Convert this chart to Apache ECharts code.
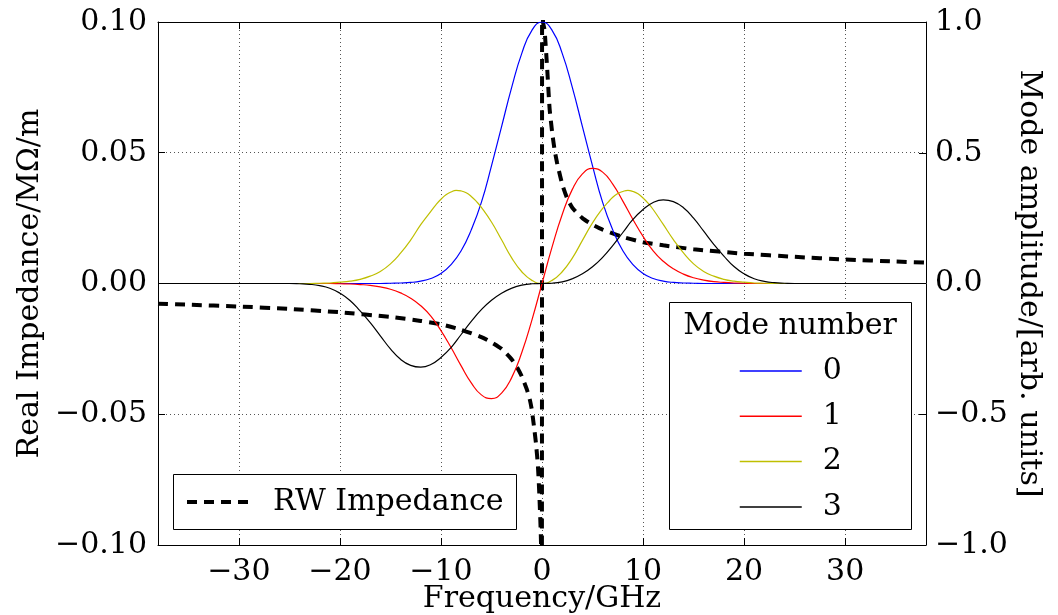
<!DOCTYPE html>
<html>
<head>
<meta charset="utf-8">
<script src="https://cdn.jsdelivr.net/npm/echarts@6/dist/echarts.min.js"></script>
<style>
  html, body { margin: 0; padding: 0; background: #fff; }
  #chart { width: 1058px; height: 615px; }
</style>
</head>
<body>
<div id="chart"></div>
<script>
// ---- Data ----
var xTicks = [-30, -20, -10, 0, 10, 20, 30];
var leftTicks = [-0.1, -0.05, 0, 0.05, 0.1];
var rightTicks = [-1, -0.5, 0, 0.5, 1];

// Resistive-wall impedance (left axis, MΩ/m)
var rwFreq = [-38, -35, -30, -25, -20, -15, -12, -10, -8, -6, -5, -4, -3, -2.5, -2, -1.5, -1.2, -1, -0.8, -0.6, -0.4, -0.25, -0.1, -0.02,
              0.02, 0.1, 0.25, 0.5, 0.75, 1, 1.25, 1.5, 2, 2.5, 3, 4, 5, 6, 8, 10, 12, 15, 20, 25, 30, 35, 38];
var rwImp = [-0.0077, -0.0081, -0.0088, -0.0097, -0.0110, -0.0128, -0.0143, -0.0156, -0.0177, -0.0205, -0.0225, -0.0250, -0.0290, -0.0318, -0.0355, -0.0405, -0.0445, -0.0485, -0.0545, -0.0610, -0.0700, -0.0820, -0.0990, -0.15,
             0.15, 0.100, 0.097, 0.083, 0.067, 0.058, 0.051, 0.046, 0.038, 0.0325, 0.029, 0.0250, 0.0225, 0.0206, 0.0178, 0.0158, 0.0146, 0.0131, 0.0114, 0.0102, 0.0092, 0.0084, 0.0080];

// Mode amplitudes (right axis, arb. units), sampled every 1 GHz from -25 to 25, plus the ends
var modeFreq = [-38, -25, -24, -23, -22, -21, -20, -19, -18, -17, -16, -15, -14, -13, -12, -11, -10, -9, -8, -7, -6, -5, -4, -3, -2, -1,
                0, 1, 2, 3, 4, 5, 6, 7, 8, 9, 10, 11, 12, 13, 14, 15, 16, 17, 18, 19, 20, 21, 22, 23, 24, 25, 38];
var mode0 = [0, 0, 0, 0, 0, 0, 0, 0, 0, 0, 0, 0.001, 0.002, 0.004, 0.009, 0.019, 0.038, 0.072, 0.125, 0.205, 0.31, 0.45, 0.60, 0.75, 0.88, 0.968,
             1.0, 0.968, 0.88, 0.75, 0.60, 0.45, 0.31, 0.205, 0.125, 0.072, 0.038, 0.019, 0.009, 0.004, 0.002, 0.001, 0, 0, 0, 0, 0, 0, 0, 0, 0, 0, 0];
var mode1 = [0, 0, 0, 0, 0, 0, -0.001, -0.002, -0.004, -0.007, -0.013, -0.022, -0.036, -0.056, -0.085, -0.125, -0.18, -0.245, -0.315, -0.38, -0.426, -0.44, -0.419, -0.36, -0.264, -0.14,
             0, 0.14, 0.264, 0.36, 0.419, 0.44, 0.426, 0.38, 0.315, 0.245, 0.18, 0.125, 0.085, 0.056, 0.036, 0.022, 0.013, 0.007, 0.004, 0.002, 0.001, 0, 0, 0, 0, 0, 0];
var mode3 = [0, 0, -0.001, -0.003, -0.008, -0.018, -0.037, -0.065, -0.105, -0.15, -0.2, -0.25, -0.29, -0.313, -0.32, -0.31, -0.283, -0.245, -0.195, -0.145, -0.10, -0.064, -0.037, -0.018, -0.006, -0.001,
             0, 0.001, 0.006, 0.018, 0.037, 0.064, 0.10, 0.145, 0.195, 0.245, 0.283, 0.31, 0.32, 0.313, 0.29, 0.25, 0.2, 0.15, 0.105, 0.065, 0.037, 0.018, 0.008, 0.003, 0.001, 0, 0];

// Mode 2 is sampled more finely around its two peaks
var mode2Freq = [-38, -25, -24, -23, -22, -21, -20, -19, -18, -17, -16, -15, -14, -13, -12,
                 -11, -10.5, -10, -9.5, -9, -8.5, -8, -7.5, -7, -6.5, -6, -5, -4, -3, -2, -1,
                 0, 1, 2, 3, 4, 5, 6, 6.5, 7, 7.5, 8, 8.5, 9, 9.5, 10, 10.5, 11,
                 12, 13, 14, 15, 16, 17, 18, 19, 20, 21, 22, 23, 24, 25, 38];
var mode2 = [0, 0, 0, 0, 0.001, 0.002, 0.005, 0.009, 0.016, 0.028, 0.046, 0.075, 0.116, 0.166, 0.225,
             0.276, 0.301, 0.322, 0.339, 0.350, 0.356, 0.354, 0.347, 0.333, 0.314, 0.291, 0.235, 0.167, 0.098, 0.045, 0.012,
             0, 0.012, 0.045, 0.097, 0.165, 0.232, 0.287, 0.309, 0.330, 0.344, 0.352, 0.356, 0.352, 0.343, 0.327, 0.307, 0.283,
             0.226, 0.168, 0.117, 0.075, 0.046, 0.028, 0.016, 0.009, 0.005, 0.002, 0.001, 0, 0, 0, 0];

var modeNames = ['0', '1', '2', '3'];
var modeColors = ['#0000ff', '#ff0000', '#bfbf00', '#000000'];
var modeXs = [modeFreq, modeFreq, mode2Freq, modeFreq];
var modeValues = [mode0, mode1, mode2, mode3];

function pairs(xs, ys) {
  var out = [];
  for (var i = 0; i < xs.length; i++) out.push([xs[i], ys[i]]);
  return out;
}
function fmt(v, d) {
  return v.toFixed(d).replace('-', '\u2212');
}

var FONT = 'DejaVu Serif';
var FS = 30;
var GRID_COLOR = '#555';

var series = [{
  name: 'RW Impedance',
  type: 'line',
  xAxisIndex: 0,
  yAxisIndex: 0,
  data: pairs(rwFreq, rwImp),
  showSymbol: false,
  symbol: 'none',
  smooth: 0.2,
  lineStyle: { color: '#000', width: 4, type: [10, 7] },
  itemStyle: { color: '#000' },
  z: 3
}];
for (var m = 0; m < 4; m++) {
  series.push({
    name: modeNames[m],
    type: 'line',
    xAxisIndex: 0,
    yAxisIndex: 1,
    data: pairs(modeXs[m], modeValues[m]),
    showSymbol: false,
    symbol: 'none',
    smooth: 0.5,
    lineStyle: { color: modeColors[m], width: 1.2 },
    itemStyle: { color: modeColors[m] },
    z: 4
  });
}

var legendItemStyle = { color: 'rgba(0,0,0,0)', borderWidth: 0, opacity: 0 };

var chart = echarts.init(document.getElementById('chart'), null, { renderer: 'canvas' });
chart.setOption({
  animation: false,
  backgroundColor: '#fff',
  grid: { left: 158, right: 132, top: 22, bottom: 70, containLabel: false, outerBoundsMode: 'none' },
  xAxis: [{
    type: 'value', position: 'bottom', min: -38, max: 38,
    name: 'Frequency/GHz', nameLocation: 'middle', nameGap: 39, nameMoveOverlap: false,
    nameTextStyle: { fontFamily: FONT, fontSize: FS, color: '#000' },
    axisLine: { show: true, onZero: false, lineStyle: { color: '#000', width: 1 } },
    axisTick: { show: true, inside: true, length: 7, customValues: xTicks, lineStyle: { color: '#000' } },
    axisLabel: { show: true, customValues: xTicks, fontFamily: FONT, fontSize: FS, color: '#000', margin: 12,
                 formatter: function (v) { return fmt(v, 0); } },
    splitLine: { show: true, lineStyle: { color: GRID_COLOR, width: 1, type: [1, 3] } }
  }, {
    type: 'value', position: 'top', min: -38, max: 38,
    axisLine: { show: true, onZero: false, lineStyle: { color: '#000', width: 1 } },
    axisTick: { show: true, inside: true, length: 7, customValues: xTicks, lineStyle: { color: '#000' } },
    axisLabel: { show: false },
    splitLine: { show: false }
  }],
  yAxis: [{
    type: 'value', position: 'left', min: -0.1, max: 0.1, interval: 0.05,
    name: 'Real Impedance/M\u03A9/m', nameLocation: 'middle', nameGap: 113, nameMoveOverlap: false,
    nameTextStyle: { fontFamily: FONT, fontSize: FS, color: '#000' },
    axisLine: { show: true, onZero: false, lineStyle: { color: '#000', width: 1 } },
    axisTick: { show: true, inside: true, length: 7, lineStyle: { color: '#000' } },
    axisLabel: { fontFamily: FONT, fontSize: FS, color: '#000', margin: 11,
                 formatter: function (v) { return fmt(v, 2); } },
    splitLine: { show: true, lineStyle: { color: GRID_COLOR, width: 1, type: [1, 3] } }
  }, {
    type: 'value', position: 'right', min: -1, max: 1, interval: 0.5,
    name: 'Mode amplitude/[arb. units]', nameLocation: 'middle', nameGap: 88, nameRotate: -90, nameMoveOverlap: false,
    nameTextStyle: { fontFamily: FONT, fontSize: FS, color: '#000' },
    axisLine: { show: true, onZero: false, lineStyle: { color: '#000', width: 1 } },
    axisTick: { show: true, inside: true, length: 7, lineStyle: { color: '#000' } },
    axisLabel: { fontFamily: FONT, fontSize: FS, color: '#000', margin: 9,
                 formatter: function (v) { return fmt(v, 1); } },
    splitLine: { show: false }
  }],
  legend: [{
    data: ['RW Impedance'],
    left: 185, top: 486, padding: 0,
    itemWidth: 62, itemHeight: 2,
    itemStyle: legendItemStyle,
    lineStyle: { width: 4, type: [10, 7] },
    textStyle: { fontFamily: FONT, fontSize: FS, color: '#000', lineHeight: 32, padding: [0, 0, 0, 19] },
    selectedMode: false, z: 20
  }, {
    data: modeNames,
    orient: 'vertical',
    left: 739, top: 355, padding: 0,
    itemWidth: 62, itemHeight: 2, itemGap: 13.3,
    itemStyle: legendItemStyle,
    lineStyle: { width: 1.5 },
    textStyle: { fontFamily: FONT, fontSize: FS, color: '#000', lineHeight: 32, padding: [0, 0, 0, 16] },
    selectedMode: false, z: 20
  }],
  graphic: [{
    type: 'rect', z: 15,
    shape: { x: 173.5, y: 474.5, width: 343, height: 55 },
    style: { fill: '#fff', stroke: '#000', lineWidth: 1 }
  }, {
    type: 'rect', z: 15,
    shape: { x: 669.5, y: 302.5, width: 242, height: 227 },
    style: { fill: '#fff', stroke: '#000', lineWidth: 1 }
  }, {
    type: 'text', z: 20,
    x: 790, y: 326,
    style: { text: 'Mode number', fontFamily: FONT, fontSize: FS, fill: '#000', align: 'center', verticalAlign: 'middle' }
  }],
  series: series
});
</script>
</body>
</html>
